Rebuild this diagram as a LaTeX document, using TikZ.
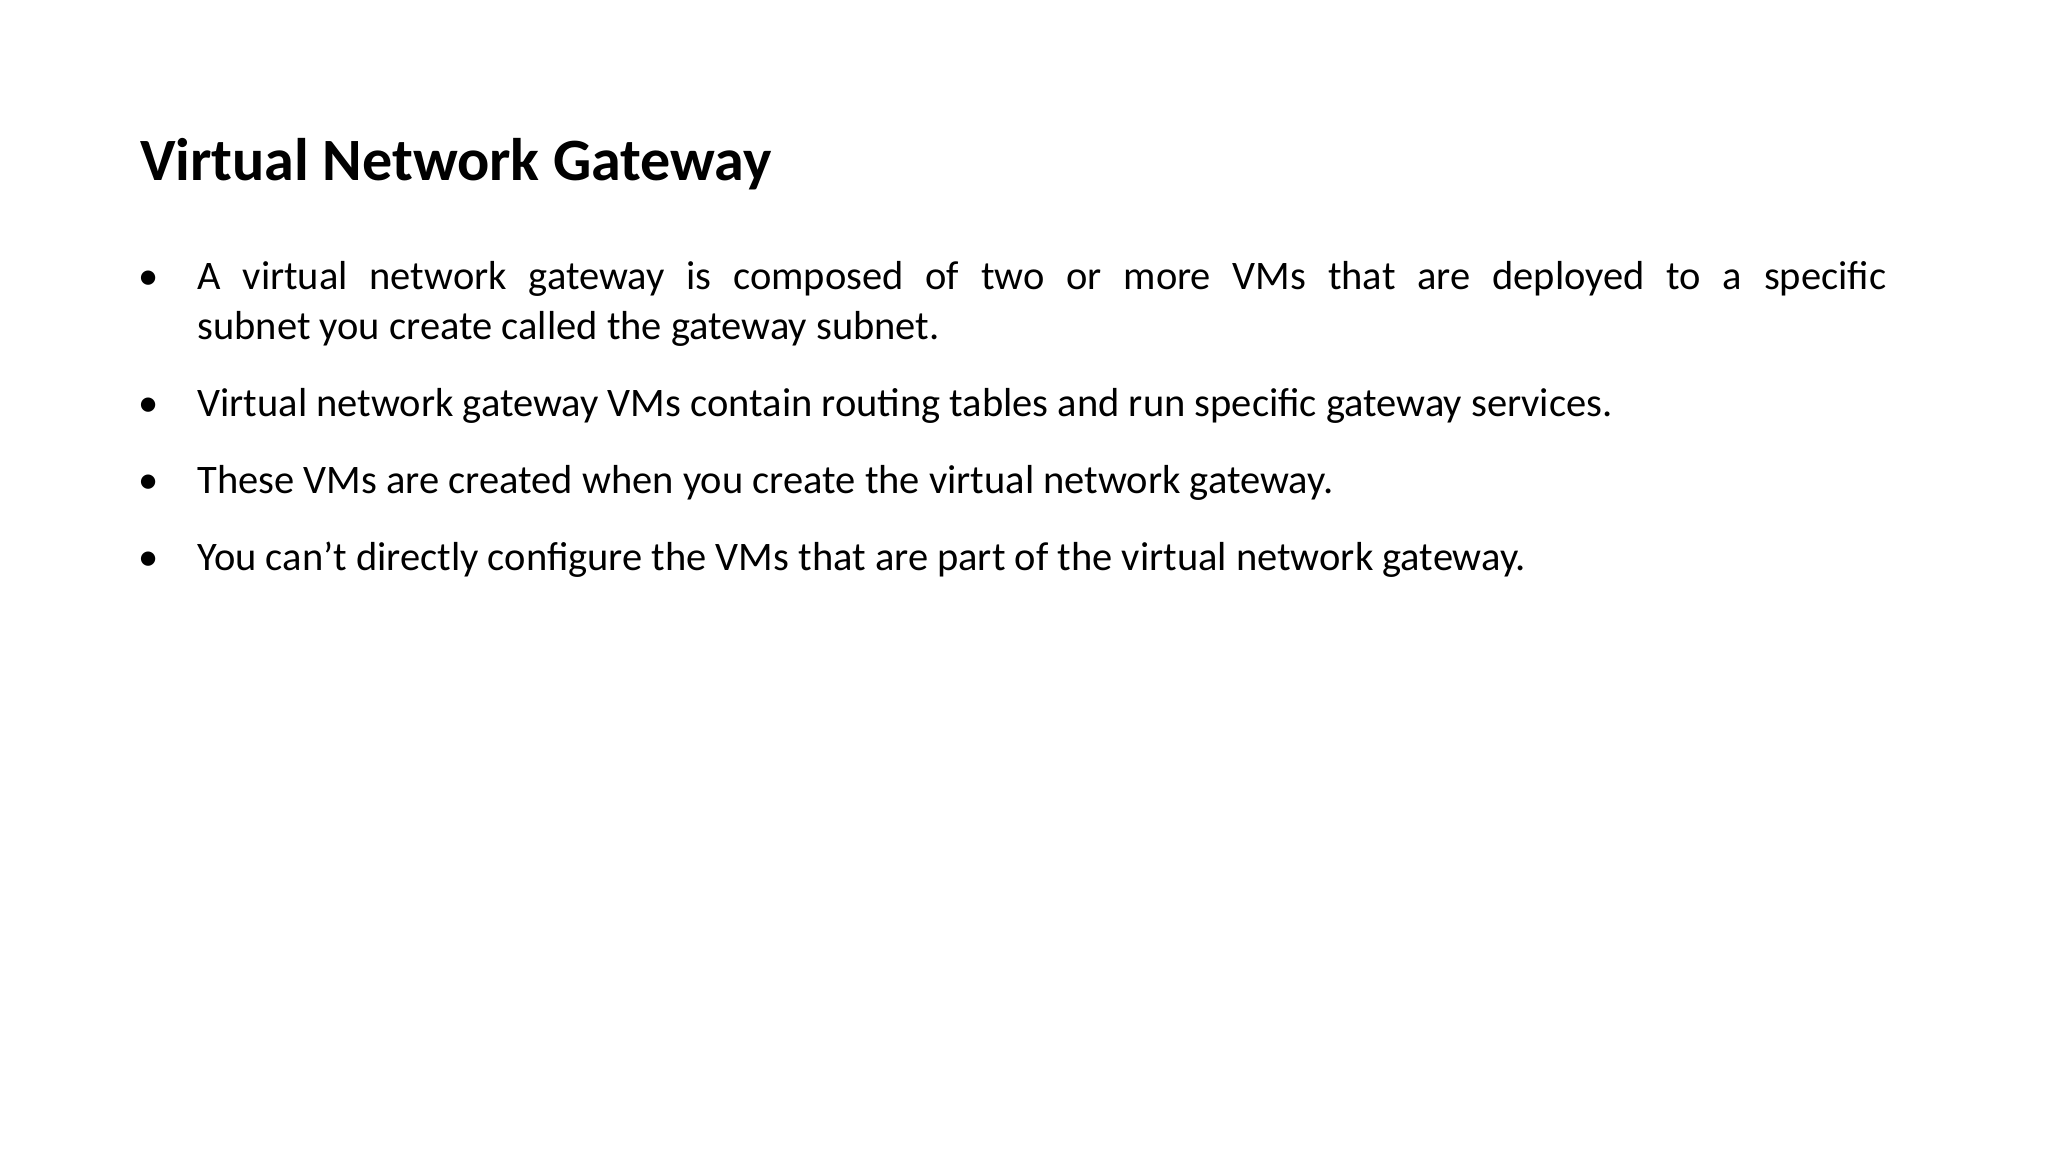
\documentclass[tikz,border=0pt]{standalone}
\usepackage{fontspec}
\setmainfont{Carlito}
\begin{document}
\begin{tikzpicture}[x=1pt,y=-1pt,
  body/.style={anchor=base west,inner sep=0pt,font=\fontsize{31}{38}\selectfont},
  bul/.style={anchor=base west,inner sep=0pt,font=\fontsize{31}{38}\selectfont}]
\useasboundingbox[fill=white] (0,0) rectangle (1568,882);
\node[anchor=base west,inner sep=0pt,font=\fontsize{46}{54}\bfseries\selectfont] (title) at (107,138) {Virtual Network Gateway};
\node[bul] (b1) at (106,222) {•};
\node[body] (t1a) at (151,222) {\makebox[1293pt][s]{A virtual network gateway is composed of two or more VMs that are deployed to a specific}};
\node[body] (t1b) at (151,260) {subnet you create called the gateway subnet.};
\node[bul] (b2) at (106,319) {•};
\node[body] (t2) at (151,319) {Virtual network gateway VMs contain routing tables and run specific gateway services.};
\node[bul] (b3) at (106,378) {•};
\node[body] (t3) at (151,378) {These VMs are created when you create the virtual network gateway.};
\node[bul] (b4) at (106,437) {•};
\node[body] (t4) at (151,437) {You can't directly configure the VMs that are part of the virtual network gateway.};
\end{tikzpicture}
\end{document}
